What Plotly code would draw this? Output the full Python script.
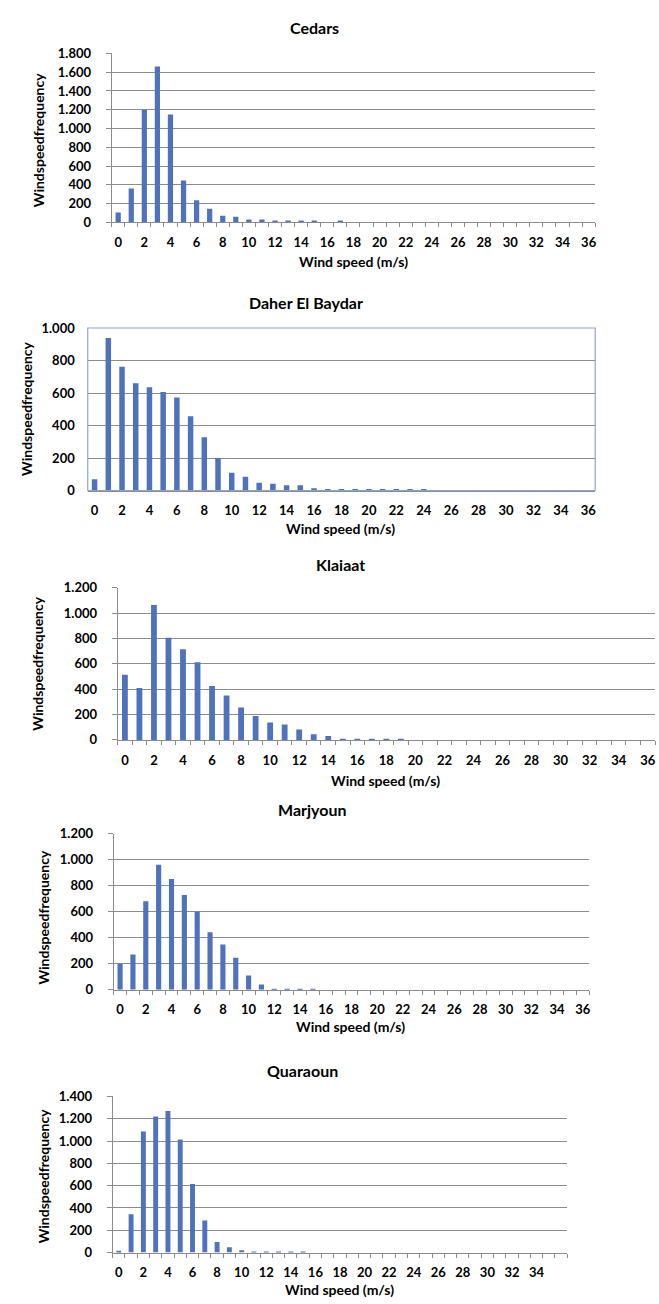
import plotly.graph_objects as go

PAGE_W, PAGE_H = 659, 1304
W, H = PAGE_W, PAGE_H

wind_speed = list(range(37))

cedars = [105, 360, 1200, 1660, 1150, 445, 235, 145, 70, 60, 30, 30, 20, 20, 20, 20, 0, 15,
          0, 0, 0, 0, 0, 0, 0, 0, 0, 0, 0, 0, 0, 0, 0, 0, 0, 0, 0]
daher_el_baydar = [70, 938, 762, 660, 635, 607, 572, 457, 328, 200, 110, 84, 48, 42, 32, 32, 14, 8,
                   8, 8, 8, 8, 8, 8, 8, 0, 0, 0, 0, 0, 0, 0, 0, 0, 0, 0, 0]
klaiaat = [515, 410, 1065, 805, 715, 612, 425, 350, 255, 188, 137, 122, 82, 45, 30, 10, 10, 10,
           10, 8, 0, 0, 0, 0, 0, 0, 0, 0, 0, 0, 0, 0, 0, 0, 0, 0, 0]
marjyoun = [200, 272, 680, 962, 852, 728, 600, 443, 348, 246, 110, 41, 8, 8, 8, 8, 0, 0,
            0, 0, 0, 0, 0, 0, 0, 0, 0, 0, 0, 0, 0, 0, 0, 0, 0, 0, 0]
quaraoun = [15, 343, 1085, 1220, 1270, 1015, 615, 287, 95, 48, 21, 10, 10, 10, 10, 10, 0, 0,
            0, 0, 0, 0, 0, 0, 0, 0, 0, 0, 0, 0, 0, 0, 0, 0, 0, 0, 0]

titles = ["Cedars", "Daher El Baydar", "Klaiaat", "Marjyoun", "Quaraoun"]
series = [cedars, daher_el_baydar, klaiaat, marjyoun, quaraoun]
y_max = [1800, 1000, 1200, 1200, 1400]
x_tick_labels = [list(range(0, 37, 2))] * 4 + [list(range(0, 35, 2))]

x_title = "Wind speed (m/s)"
y_title = "Windspeedfrequency"

# geometry in page pixels: plot left/right/top/bottom; title, x-title, y-title centres
geom = [
    dict(x0=112, x1=597, yt=46, yb=217, t=(315, 20), xt=(355, 257), ytc=(38, 133), box=False),
    dict(x0=88, x1=597, yt=324, yb=488.5, t=(307, 298), xt=(342, 527), ytc=(26, 405), box=True),
    dict(x0=118, x1=657, yt=587, yb=741, t=(342, 563), xt=(387, 782), ytc=(38, 663), box=False),
    dict(x0=114, x1=591, yt=836, yb=994, t=(313, 811), xt=(352, 1031), ytc=(44, 920), box=False),
    dict(x0=113, x1=569, yt=1102, yb=1260, t=(303, 1076), xt=(341, 1297), ytc=(44, 1182), box=False),
]


def px(x):
    return x / W


def py(y):
    return 1 - y / H


BAR = "#4F72BD"
GRID = "#8C8C8C"
FONT = "Lato"

fig = go.Figure()
annotations = []
shapes = []
layout = {}

for i, (name, vals, ymax, labs, g) in enumerate(zip(titles, series, y_max, x_tick_labels, geom)):
    n = i + 1
    xa = "x" if n == 1 else f"x{n}"
    ya = "y" if n == 1 else f"y{n}"
    fig.add_trace(go.Bar(x=wind_speed, y=vals, marker_color=BAR, marker_line_width=0,
                         xaxis=xa, yaxis=ya, showlegend=False, name=name))
    ncat = len(wind_speed)
    bounds = [k - 0.5 for k in range(ncat + 1)]
    xkey = "xaxis" if n == 1 else f"xaxis{n}"
    ykey = "yaxis" if n == 1 else f"yaxis{n}"
    layout[xkey] = dict(
        domain=[px(g["x0"]), px(g["x1"])], anchor=ya,
        range=[-0.5, ncat - 0.5], tickmode="array", tickvals=labs,
        ticktext=[str(v) for v in labs], ticks="", showgrid=False, zeroline=False,
        showline=True, linecolor=GRID, linewidth=1,
        tickfont=dict(family=FONT, size=13, color="black", weight="bold"),
        ticklabelstandoff=8, ticklabeloverflow="allow",
        minor=dict(tickmode="array", tickvals=bounds,
                   ticks="" if g["box"] else "outside", ticklen=4,
                   tickcolor=GRID, showgrid=False),
        fixedrange=True,
    )
    layout[ykey] = dict(
        domain=[py(g["yb"]), py(g["yt"])], anchor=xa,
        range=[0, ymax], dtick=200, tick0=0, tickformat=",d", separatethousands=True,
        showgrid=True, gridcolor=GRID, gridwidth=1, zeroline=False,
        showline=not g["box"], linecolor=GRID, linewidth=1,
        ticks="" if g["box"] else "outside", ticklen=5, tickcolor=GRID,
        tickfont=dict(family=FONT, size=13, color="black", weight="bold"),
        ticklabelstandoff=12,
        fixedrange=True,
    )
    if g["box"]:
        shapes.append(dict(type="rect", xref="paper", yref="paper",
                           x0=px(g["x0"]), x1=px(g["x1"]), y0=py(g["yb"]), y1=py(g["yt"]),
                           line=dict(color="#8FA3D3", width=1.2), layer="above"))
    annotations.append(dict(text=name, x=px(g["t"][0]), y=py(g["t"][1]), xref="paper",
                            yref="paper", showarrow=False, xanchor="center", yanchor="middle",
                            font=dict(family=FONT, size=16, color="black", weight="bold")))
    annotations.append(dict(text=x_title, x=px(g["xt"][0]), y=py(g["xt"][1]), xref="paper",
                            yref="paper", showarrow=False, xanchor="center", yanchor="middle",
                            font=dict(family=FONT, size=14, color="black", weight="bold")))
    annotations.append(dict(text=y_title, x=px(g["ytc"][0]), y=py(g["ytc"][1]), xref="paper",
                            yref="paper", showarrow=False, xanchor="center", yanchor="middle",
                            textangle=-90,
                            font=dict(family=FONT, size=14, color="black", weight="bold")))

fig.update_layout(
    width=W, height=H, margin=dict(l=0, r=0, t=0, b=0),
    paper_bgcolor="white", plot_bgcolor="white",
    separators=",.", bargap=0.6,
    annotations=annotations, shapes=shapes,
    **layout,
)

# remove the default 8px page margin so the figure fills the window exactly
fig.write_html("out.html", config={"displayModeBar": False},
               post_script="document.body.style.margin='0';document.body.style.overflow='hidden';")
